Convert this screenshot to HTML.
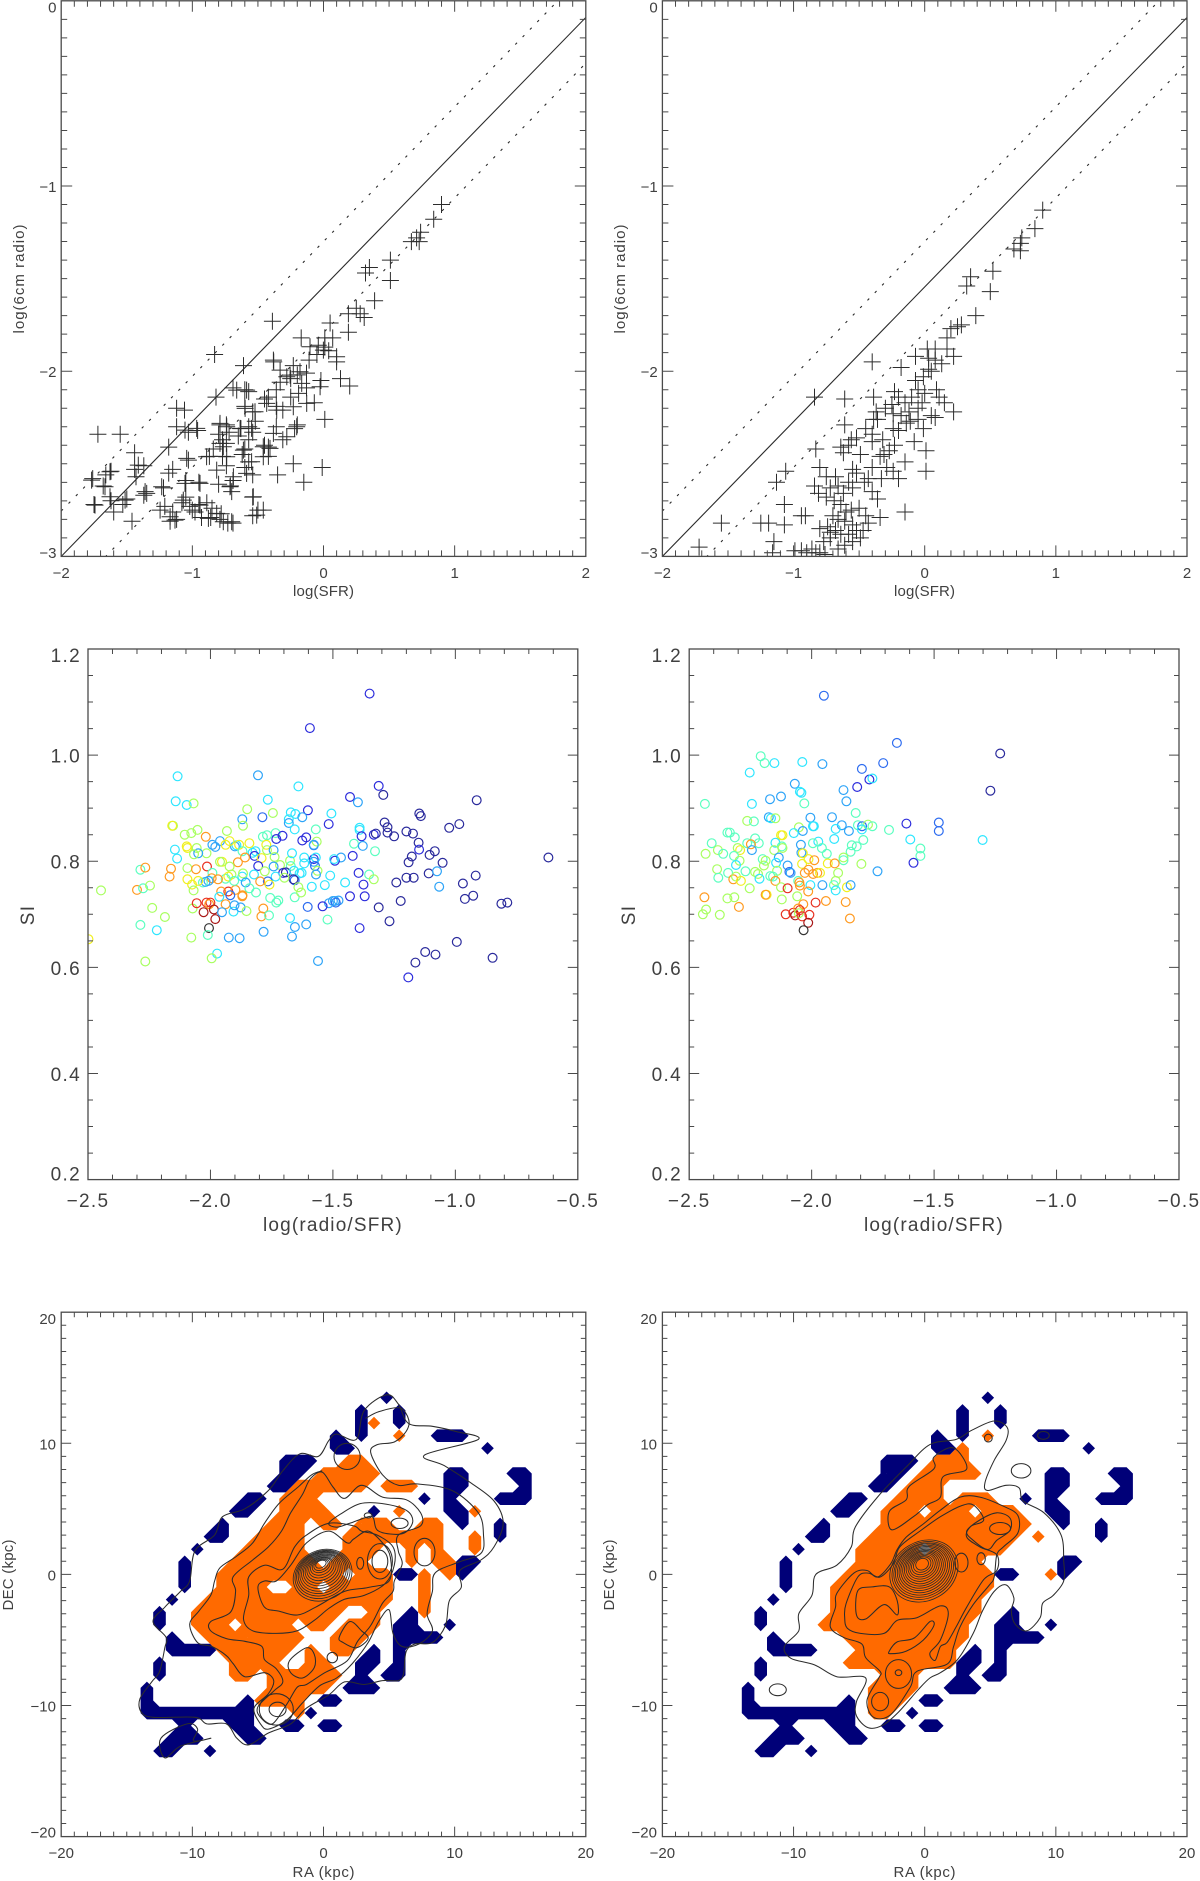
<!DOCTYPE html>
<html lang="en">
<head>
<meta charset="utf-8">
<title>Radio, SFR and spectral index panels</title>
<style>
html,body{margin:0;padding:0;background:#fff;}
svg{display:block;}
text{font-family:"Liberation Sans",sans-serif;fill:#404040;}
.t15{font-size:15px;}
.t19{font-size:19px;letter-spacing:1.3px;}
</style>
</head>
<body>
<svg id="figure" xmlns="http://www.w3.org/2000/svg" width="1200" height="1881" viewBox="0 0 1200 1881">
  <rect width="1200" height="1881" fill="#fff"/>
  <g id="p1">
    <text class="t15" x="323.5" y="596" text-anchor="middle" textLength="61">log(SFR)</text>
    <text class="t15" x="0" y="0" text-anchor="middle" textLength="109" transform="translate(24,279) rotate(-90)">log(6cm radio)</text>
  </g>
  <g id="p2">
    <text class="t15" x="924.5" y="596" text-anchor="middle" textLength="61">log(SFR)</text>
    <text class="t15" x="0" y="0" text-anchor="middle" textLength="109" transform="translate(625,279) rotate(-90)">log(6cm radio)</text>
  </g>
  <g id="p3">
    <text class="t19" x="333" y="1231" text-anchor="middle" textLength="140">log(radio/SFR)</text>
    <text class="t19" x="0" y="0" text-anchor="middle" transform="translate(34,915) rotate(-90)">SI</text>
  </g>
  <g id="p4">
    <text class="t19" x="934" y="1231" text-anchor="middle" textLength="140">log(radio/SFR)</text>
    <text class="t19" x="0" y="0" text-anchor="middle" transform="translate(635,915) rotate(-90)">SI</text>
  </g>
  <g id="p5">
    <text class="t15" x="323.5" y="1877" text-anchor="middle" textLength="62">RA (kpc)</text>
    <text class="t15" x="0" y="0" text-anchor="middle" textLength="71" transform="translate(13,1575) rotate(-90)">DEC (kpc)</text>
  </g>
  <g id="p6">
    <text class="t15" x="924.5" y="1877" text-anchor="middle" textLength="62">RA (kpc)</text>
    <text class="t15" x="0" y="0" text-anchor="middle" textLength="71" transform="translate(614,1575) rotate(-90)">DEC (kpc)</text>
  </g>
</svg>
<script>
/* ---------- tick labels ---------- */
const sfrTicks=[-2,-1,0,1,2];
const radioTicks=[0,-1,-2,-3];
const ratioTicks=[-2.5,-2,-1.5,-1,-0.5];
const siTicks=[1.2,1,0.8,0.6,0.4,0.2];
const raTicks=[-20,-10,0,10,20];
const decTicks=[20,10,0,-10,-20];

/* ---------- fit lines, log(radio) = slope*log(SFR) + intercept ---------- */
const fitSlope=[0.7275];
const fitIntercepts=[-1.545,-1.3,-1.792];

/* ---------- top panels: log(SFR), log(6cm radio) ---------- */
const crossLeftX=[.90,.84,.74,.71,.67,.73,.51,.51,.35,.32,.39,.25,.19,.28,.31,.05,.19,-.17,.01,.07,-.04,.01,.04,-.39,-.83,-.61,-.38,.10,-.23,-.13,-.28,-.25,.13,.20,-.02,-.13,-.36,-.60,-.57,-.69,-.82,-1.12,-1.06,-.42,-.25,-.19,-.07,-.36,-.54,-.60,-.31,.01,-.20,-.22,-.36,-.57,-.54,-.74,-.79,-1.12,-.96,-1.03,-.80,-.63,-.77,-.74,-.31,-.42,-.57,-.60,-.45,-1.72,-1.55,-1.44,-1.18,-1.03,-.87,-.77,-.74,-.57,-.42,-.60,-.23,-.01,-.35,-.15,-.54,-.69,-.71,-.80,-.95,-1.05,-1.15,-1.18,-1.37,-1.44,-1.43,-1.62,-1.66,-1.76,-1.68,-1.22,-1.36,-1.37,-1.50,-1.53,-1.62,-1.75,-1.60,-1.46,-1.21,-1.15,-1.12,-1.17,-1.05,-1.02,-.95,-.89,-.93,-.86,-.79,-.73,-.69,-.54,-.50,-.54,-.70,-.85,-.78,-1.08,-.98,-.65,-.62,-.52,-.72,-.84,-.45,-.33,-.20,-.05,-.11,-1.056,-.967,-.789,-.738,-.636,-.548,-.789,-.764,-.611,-.459,-.408,-1.043,-.891,-.738,-.548,-.814,-.586,-.687,-.459,-.713,-.942,-1.056,-1.234,-1.348,-1.513,-1.742,-1.628,-1.412,-1.628,-1.768,-1.666,-1.246,-1.17,-1.132,-1.069,-.942,-.814,-.878,-.764,-.7,-1,-.535,-.509,-.459,-.331,-.179,-.382,-.255,-.598,-.522,-.433,-.357,-.23,-.128,-.28,-.204,-.382,-.586,-.662,-.166,-.026,.1,-.001,-.103];
const crossLeftY=[-1.10,-1.18,-1.25,-1.28,-1.30,-1.30,-1.40,-1.51,-1.44,-1.47,-1.62,-1.66,-1.69,-1.69,-1.71,-1.74,-1.79,-1.82,-1.82,-1.82,-1.86,-1.87,-1.89,-1.73,-1.91,-1.97,-1.95,-1.95,-1.97,-2.01,-2.03,-2.04,-2.04,-2.08,-2.05,-2.09,-2.10,-2.10,-2.11,-2.09,-2.14,-2.20,-2.21,-2.14,-2.14,-2.12,-2.17,-2.19,-2.22,-2.19,-2.21,-2.26,-2.29,-2.31,-2.30,-2.30,-2.33,-2.29,-2.29,-2.30,-2.32,-2.33,-2.34,-2.31,-2.37,-2.39,-2.37,-2.41,-2.37,-2.42,-2.40,-2.34,-2.34,-2.44,-2.41,-2.48,-2.46,-2.46,-2.51,-2.49,-2.46,-2.52,-2.50,-2.52,-2.56,-2.60,-2.56,-2.59,-2.62,-2.61,-2.60,-2.59,-2.53,-2.55,-2.51,-2.53,-2.57,-2.54,-2.56,-2.58,-2.62,-2.63,-2.65,-2.67,-2.69,-2.72,-2.70,-2.72,-2.76,-2.81,-2.73,-2.76,-2.80,-2.81,-2.68,-2.73,-2.72,-2.71,-2.79,-2.79,-2.80,-2.82,-2.82,-2.68,-2.75,-2.78,-2.65,-2.74,-2.77,-2.71,-2.76,-2.35,-2.45,-2.27,-2.33,-2.42,-2.15,-2.06,-2.02,-1.91,-1.94,-2.318,-2.309,-2.282,-2.30,-2.309,-2.309,-2.39,-2.408,-2.426,-2.408,-2.417,-2.471,-2.462,-2.462,-2.489,-2.534,-2.552,-2.57,-2.462,-2.624,-2.606,-2.606,-2.624,-2.66,-2.696,-2.723,-2.678,-2.507,-2.543,-2.588,-2.624,-2.75,-2.786,-2.804,-2.696,-2.723,-2.768,-2.795,-2.813,-2.813,-2.75,-2.678,-2.777,-2.75,-1.994,-2.003,-1.94,-2.021,-2.201,-2.219,-2.174,-2.21,-2.192,-2.174,-2.354,-2.30,-2.336,-2.102,-2.102,-2.066,-2.084,-1.922,-1.886,-1.868];
const crossRightX=[.90,.84,.74,.73,.68,.73,.52,.50,.35,.32,.39,.25,.20,.28,.17,.17,.02,.08,-.07,.22,.08,-.40,-.18,.03,-.01,-.07,.09,-.23,-.61,-.84,.11,-.39,-.15,-.02,.15,-.37,-.24,-.05,.22,.08,-.39,-.14,-.11,-.61,-.01,-.24,-.40,-.08,-.23,-.56,-.64,-.83,.01,-.31,-.49,-.15,-1.06,-.80,-.55,.01,-.33,-.43,-.20,-1.13,-.72,-.55,-.81,-.40,-1.07,-.36,-.69,-.15,-.56,-.64,-.94,-.91,-.34,-1.19,-1.25,-1.55,-1.07,-.80,-.72,-.43,-.61,-.55,-.49,-.72,-.64,-1.15,-1.72,-.99,-.90,-.80,-1.16,-.94,-.83,-.61,-.62,-.58,-.52,-.45,-.36,-.30,-.25,-.2,-.12,-.05,-.32,-.27,-.34,-.29,-.24,-.4,-.46,-.52,-.58,-.62,-.66,-.68,-.75,-.7,-.66,-.6,-.5,-.45,-.52,-.58,-.68,-.74,-.77,-.55,-.47,-.86,-.76,-.66,-.75,-.84,-.05,.0,-.1,.05,-.2,-.18,.13,.05,.03,-.4];
const crossRightY=[-1.13,-1.23,-1.28,-1.31,-1.34,-1.35,-1.46,-1.57,-1.49,-1.54,-1.70,-1.76,-1.77,-1.75,-1.82,-1.88,-1.88,-1.88,-1.92,-1.92,-1.94,-1.95,-1.98,-1.99,-2.03,-2.05,-2.10,-2.11,-2.15,-2.14,-2.14,-2.14,-2.17,-2.17,-2.17,-2.22,-2.23,-2.20,-2.22,-2.25,-2.26,-2.28,-2.27,-2.29,-2.31,-2.31,-2.34,-2.38,-2.40,-2.37,-2.41,-2.42,-2.43,-2.45,-2.45,-2.49,-2.54,-2.52,-2.53,-2.54,-2.58,-2.58,-2.58,-2.60,-2.63,-2.63,-2.66,-2.65,-2.72,-2.69,-2.70,-2.76,-2.75,-2.72,-2.78,-2.78,-2.79,-2.82,-2.82,-2.82,-2.83,-2.85,-2.87,-2.82,-2.81,-2.83,-2.90,-2.90,-2.88,-2.92,-2.95,-2.97,-2.98,-2.98,-2.98,-2.97,-2.98,-2.94,-2.44,-2.40,-2.36,-2.31,-2.26,-2.20,-2.18,-2.14,-2.22,-2.26,-2.37,-2.43,-2.46,-2.52,-2.54,-2.52,-2.6,-2.55,-2.6,-2.66,-2.62,-2.57,-2.68,-2.78,-2.8,-2.76,-2.74,-2.78,-2.86,-2.88,-2.86,-2.84,-2.92,-2.92,-2.86,-2.96,-2.99,-2.96,-2.57,-2.62,-2.1,-2.12,-2.14,-2.24,-2.32,-2.24,-1.96,-2.0,-1.93,-2.38];

/* ---------- middle panels: log(radio/SFR), spectral index, colour class ---------- */
const circleLeftX=[-1.35,-1.594,-2.134,-1.806,-2.142,-2.097,-2.069,-1.766,-1.43,-1.398,-1.313,-1.294,-1.641,-.913,-1.85,-1.745,-1.87,-1.788,-1.672,-1.653,-1.68,-1.68,-1.602,-1.625,-1.506,-1.517,-1.147,-1.141,-.984,-1.025,-1.289,-1.277,-1.277,-1.25,-1.2,-1.173,-1.391,-1.391,-1.383,-1.333,-1.325,-1.15,-1.148,-1.105,-1.084,-1.178,-1.191,-1.052,-.62,-1.656,-1.57,-2.153,-2.156,-1.867,-1.933,-2.053,-2.078,-2.105,-2.019,-1.961,-1.992,-1.98,-1.9,-1.894,-2.097,-2.094,-2.056,-2.016,-2.05,-2.067,-2.145,-2.136,-1.922,-1.883,-1.841,-1.938,-1.869,-1.828,-1.816,-1.82,-1.786,-1.769,-1.734,-1.731,-1.706,-1.772,-1.769,-1.742,-1.738,-1.859,-1.888,-1.791,-1.953,-1.961,-1.922,-1.716,-1.675,-1.672,-1.667,-1.617,-1.578,-1.566,-1.609,-1.625,-1.578,-1.414,-1.378,-1.328,-1.467,-1.492,-1.495,-1.419,-1.578,-1.57,-1.578,-1.617,-1.573,-1.563,-1.805,-1.742,-1.703,-1.692,-1.659,-1.636,-1.569,-1.511,-1.656,-1.661,-1.628,-2.094,-2.161,-2.167,-2.286,-2.266,-2.059,-2.014,-1.992,-1.914,-1.938,-1.927,-1.969,-1.995,-2.008,-2.031,-2.02,-2.094,-2.05,-2.075,-2.069,-1.927,-1.898,-1.956,-1.919,-1.903,-1.87,-1.822,-1.867,-1.778,-1.734,-1.766,-1.759,-1.797,-1.698,-1.856,-1.841,-1.814,-1.869,-1.87,-1.964,-1.656,-1.641,-1.63,-1.756,-1.731,-1.723,-1.586,-1.533,-1.45,-1.352,-1.333,-1.395,-1.375,-1.241,-1.2,-1.17,-1.109,-1.075,-1.066,-.969,-.917,-.927,-.961,-1.223,-1.37,-1.43,-1.492,-1.477,-1.5,-1.488,-1.516,-1.542,-1.603,-2.447,-2.3,-2.275,-2.247,-2.238,-2.186,-2.286,-2.219,-2.266,-2.073,-2.056,-2.016,-2,-2.005,-2.028,-1.986,-1.98,-2.006,-1.938,-1.953,-1.906,-1.902,-1.877,-1.853,-1.784,-1.792,-1.761,-1.675,-1.655,-1.609,-1.313,-1.391,-1.269,-.812,-.788,-1.522,-1.783,-1.667,-1.925,-1.881,-2.078,-2.011,-1.973,-1.995,-1.561,-1.192,-1.163,-1.123,-1.081,-.994,-.848,-2.498];
const circleLeftY=[1.116,1.051,.96,.962,.913,.906,.909,.916,.921,.911,.942,.925,.941,.915,.898,.891,.879,.883,.892,.889,.879,.872,.896,.883,.89,.87,.89,.885,.87,.863,.873,.864,.854,.847,.856,.852,.863,.859,.847,.85,.852,.835,.822,.812,.819,.809,.798,.797,.807,.86,.86,.867,.867,.867,.857,.859,.853,.85,.846,.838,.831,.827,.828,.83,.828,.825,.825,.815,.815,.813,.822,.805,.838,.831,.834,.831,.819,.816,.819,.81,.846,.849,.853,.842,.848,.831,.821,.821,.808,.807,.798,.806,.799,.799,.79,.793,.801,.791,.815,.807,.83,.837,.845,.839,.831,.833,.829,.819,.807,.801,.804,.81,.804,.807,.799,.796,.791,.782,.791,.79,.778,.779,.782,.777,.775,.773,.764,.766,.778,.787,.786,.771,.784,.788,.785,.79,.778,.775,.767,.771,.766,.768,.763,.76,.761,.766,.763,.756,.745,.743,.746,.743,.736,.763,.771,.775,.777,.781,.771,.762,.756,.762,.769,.76,.749,.741,.736,.734,.733,.732,.751,.741,.731,.722,.726,.752,.755,.76,.775,.766,.778,.756,.76,.769,.769,.777,.781,.752,.758,.773,.735,.729,.725,.734,.734,.725,.726,.725,.722,.721,.715,.714,.745,.746,.749,.754,.712,.695,.68,.67,.611,.711,.721,.722,.722,.719,.704,.709,.691,.674,.719,.704,.705,.717,.713,.706,.711,.696,.698,.693,.676,.681,.713,.674,.687,.72,.722,.69,.667,.658,.656,.655,.656,.661,.626,.617,.612,.581,.609,.629,.624,.648,.618,.653];
const circleLeftClass=[1,1,4,3,4,4,6,4,1,3,1,0,4,0,6,6,3,2,4,4,4,3,1,3,4,1,0,0,0,0,0,0,0,0,0,0,4,4,1,1,0,0,1,0,0,0,0,0,0,4,5,6,7,6,6,6,6,6,8,3,3,3,3,4,7,7,6,6,3,6,4,4,7,7,7,7,5,4,4,1,5,5,5,1,1,7,6,3,6,8,8,7,7,6,6,6,6,5,4,4,2,6,1,1,3,5,3,5,3,1,4,1,1,4,3,4,2,6,1,3,1,0,4,4,3,4,2,0,4,6,8,8,5,8,8,9,5,6,5,7,8,8,3,5,3,7,7,7,6,9,8,8,2,5,4,4,6,6,4,2,7,8,6,3,5,5,8,8,4,5,6,6,5,5,5,4,4,4,5,6,1,1,0,0,0,0,3,3,0,0,0,0,0,1,1,3,3,3,2,3,1,2,6,8,5,6,6,6,5,4,6,6,9,9,9,8,10,10,10,11,8,3,4,3,3,6,8,8,5,4,3,3,0,1,0,0,0,5,3,3,3,3,6,5,4,6,3,1,0,0,0,0,0,7];
const circleRightX=[-1.95,-1.652,-1.23,-2.208,-2.192,-2.152,-2.038,-1.956,-2.253,-1.795,-1.708,-2.069,-1.814,-1.764,-1.752,-1.27,-2.048,-2.042,-1.87,-2.125,-2.17,-2.436,-2.244,-2.03,-1.858,-1.82,-1.917,-2.005,-2.175,-2.166,-2.148,-2.263,-2.236,-1.877,-1.811,-1.794,-1.77,-1.752,-1.795,-1.995,-1.991,-1.613,-1.481,-1.481,-2.052,-2.036,-2.073,-1.902,-1.848,-1.684,-2.344,-2.334,-2.314,-2.231,-2.125,-2.119,-1.908,-1.789,-1.302,-1.597,-1.973,-1.995,-2.044,-2.148,-2.263,-2.216,-2.408,-2.248,-2.122,-2.119,-1.836,-1.816,-1.556,-2.302,-2.292,-2.383,-2.244,-2.153,-1.958,-2.433,-2.361,-2.317,-2.042,-2.036,-1.938,-1.841,-1.556,-2.134,-1.87,-1.87,-2.013,-1.989,-2.2,-2.188,-2.294,-2.309,-2.039,-2.145,-2.195,-1.934,-1.906,-1.797,-1.584,-2.386,-2.27,-2.098,-2.013,-2.091,-2.086,-1.731,-1.892,-2.231,-2.219,-2.141,-2.028,-1.994,-1.977,-1.966,-2.381,-2.341,-2.32,-2.309,-2.289,-2.213,-2.169,-2.158,-2.148,-2.055,-2.05,-1.902,-2.253,-2.125,-2.098,-2.048,-2.005,-1.956,-1.909,-1.902,-1.856,-1.841,-2.014,-2.438,-2.344,-2.316,-2.184,-2.188,-2.122,-2.059,-2.034,-1.984,-1.942,-1.861,-1.844,-2.297,-2.431,-2.444,-2.375,-2.106,-2.075,-2.067,-2.055,-2.048,-2.052,-2.039,-2.009,-2.014,-2.033];
const circleRightY=[1.112,1.023,1.003,.998,.985,.985,.987,.983,.967,.974,.985,.946,.94,.954,.956,.933,.931,.929,.934,.922,.917,.908,.908,.909,.913,.891,.883,.882,.883,.881,.881,.876,.875,.868,.868,.866,.869,.866,.86,.866,.866,.871,.873,.857,.864,.857,.853,.861,.857,.859,.854,.854,.845,.843,.849,.849,.842,.84,.84,.841,.837,.834,.831,.835,.834,.834,.834,.832,.828,.825,.83,.828,.824,.825,.821,.821,.821,.821,.825,.814,.814,.81,.816,.815,.814,.818,.81,.807,.807,.802,.804,.802,.804,.801,.801,.793,.795,.797,.792,.796,.796,.795,.797,.785,.781,.792,.784,.78,.778,.781,.778,.78,.776,.782,.778,.776,.778,.778,.769,.778,.766,.771,.763,.767,.772,.771,.763,.763,.76,.763,.749,.751,.749,.754,.755,.755,.755,.745,.751,.755,.743,.732,.73,.732,.737,.737,.728,.734,.719,.722,.725,.723,.692,.714,.709,.7,.699,.7,.703,.698,.711,.708,.702,.696,.699,.684,.67];
const circleRightClass=[2,2,0,5,5,4,4,3,4,2,2,3,1,1,4,0,4,4,3,3,3,5,4,5,3,5,3,3,3,4,6,6,5,3,5,2,6,5,4,4,4,1,2,2,6,3,4,4,3,5,5,5,5,5,7,7,4,5,4,4,4,5,3,4,5,5,5,8,5,6,5,5,5,6,7,6,3,6,5,6,5,5,3,7,5,5,5,3,6,5,7,8,5,6,6,4,7,4,6,7,8,6,1,6,5,3,8,2,3,3,6,6,6,6,8,8,8,7,5,5,8,6,7,4,5,5,8,5,8,6,6,6,9,8,4,3,5,4,7,3,8,8,6,6,7,8,6,6,8,9,8,8,8,8,6,6,6,9,9,10,8,9,6,9,9,10,11];

/* ---------- bottom panels: map cells (row index, then on-cell column indices; 1 index = one map pixel) ---------- */
const mapPixelKpc=[0.962];
const lowRowsLeft=[14,13,12,11,10,9,8,7,6,5,4,3,2,1,0,-1,-2,-3,-4,-5,-6,-7,-8,-9,-10,-11,-12,-13,-14];
const lowColsLeft=[[5],[3,6],[3,6],[1,3,9,10,11],[1,2,13],[-3,-2,-1],[-3,-2,10,11,15,16],[-4,-3,10,11,16],[-6,-5,8,10,14,15,16],[-7,-6,4,10,11],[-8,11,14],[-9,-8,14],[-10],[-11,11,12],[-11,6,7,11],[-11],[-12],[-13,7],[-13,6,7,10],[-12,6,7,8,9],[-12,-11,-10,-9,4,6],[-13,3,4,6],[-13,3,5,6],[-14,2,3,4],[-14,-6,0,1],[-14,-13,-12,-11,-10,-9,-8,-7,-6,-1],[-11,-7,-6,-3,-2,0,1],[-12,-11,-10,-6,-5],[-13,-12,-9]];
const lowRowsRight=[14,13,12,11,10,9,8,7,6,5,4,3,2,1,0,-1,-2,-3,-4,-5,-6,-7,-8,-9,-10,-11,-12,-13,-14];
const lowColsRight=[[5],[3,6],[3,6],[1,3,9,10,11],[1,2,13],[-3,-2,-1],[-3,-2,10,11,15,16],[-4,-3,10,11,16],[-6,-5,8,10,14,15,16],[-7,-6,10,11],[-8,11,14],[-9,-8,14],[-10],[-11,11,12],[-11,6,7,11],[-11],[-12],[-13,7],[-13,6,7,10],[-12,6,7,8,9],[-12,-11,-10,-9,4,6],[-13,3,4,6],[-13,3,5,6],[-14,2,3,4],[-14,-6,0,1],[-14,-13,-12,-11,-10,-9,-8,-7,-6,-1],[-11,-7,-6,-3,-2,0,1],[-12,-11,-10,-6,-5],[-13,-12,-9]];
const highRowsLeft=[12,11,9,8,7,6,5,4,3,2,1,0,-1,-2,-3,-4,-5,-6,-7,-8,-9,-10,-11];
const highColsLeft=[[4],[6],[2,3],[0,1,2,3,4],[-2,-1,0,1,2,3,5,6,7],[-3,-2,-1],[-3,-2,-1,0,6,12],[-4,-3,-2,0,1,3,4,5,8,9],[-5,-4,-3,-2,2,3,4,5,6,7,8,9,12],[-6,-5,-4,-3,-2,2,3,4,7,9,12],[-7,-6,-5,-4,-3,-2,-1,1,2,3,7,9,10],[-8,-7,-6,-5,-4,-3,-2,-1,0,1,3,4,5,8,10],[-8,-7,-6,-5,-2,-1,1,2,3,4,5,8],[-9,-8,-7,-6,-5,-4,-3,-2,-1,0,1,2,3,4,5,8],[-10,-9,-8,-7,-6,-5,-4,-3,-2,-1,0,1,4,8],[-10,-9,-8,-6,-5,-4,-3,-1,0,2,3,4],[-9,-8,-7,-6,-5,-4,-3,-2,1,2,3],[-8,-7,-6,-5,-4,-3,-1,1,2],[-7,-6,-5,-4,-1,0],[-7,-6,-4,-3,-2,-1,0,1],[-4,-3,-2,-1,0],[-5,-4,-3,-2],[-2]];
const highRowsRight=[11,10,9,8,7,6,5,4,3,2,1,0,-1,-2,-3,-4,-5,-6,-7,-8,-9,-10,-11];
const highColsRight=[[5],[3],[1,2,3],[0,1,2,3,4],[-1,0,1],[-2,-1,0,1,3,4,5],[-3,-2,-1,1,2,3,5,6,7],[-3,-2,-1,0,1,2,3,4,5,6,7,8],[-4,-3,-2,-1,0,1,2,3,4,5,6,7,9],[-5,-4,-3,-2,-1,1,2,3,4,5,6],[-5,-4,-3,-2,-1,0,1,2,3,4],[-6,-5,-4,-3,-2,-1,0,1,2,3,4,5,10],[-7,-6,-5,-4,-3,-2,-1,0,1,2,3,4,5],[-7,-6,-5,-4,-3,-2,-1,0,1,2,3,4],[-7,-6,-5,-4,-3,-2,-1,0,1,2,3,4],[-8,-7,-6,-5,-4,-3,-2,-1,0,1,2,3],[-6,-5,-4,-3,-2,-1,0,1,2,3],[-5,-4,-3,-2,-1,0,1,2],[-6,-5,-4,-3,-2,-1,0,1,2],[-3,-2,-1],[-4,-3,-2,-1],[-4,-3,-2],[-4,-3]];
const peakRowsRight=[2];
const peakColsRight=[[0]];

/* ---------- contour traces in kpc: x,y,x,y,... ---------- */
const contourLeftOuter=[4.8,13.7,5.7,13,6.5,11.5,8.3,11.3,10.1,10.9,11.8,10.3,7.7,9.1,9.2,8.3,11.2,7,13,5.6,13.7,3.9,13,2.1,12,1.1,10.4,.3,10.5,-1,9.6,-2,9.3,-3.9,8.3,-5.2,7,-5.3,6.3,-5.9,6.1,-7.6,5.7,-8.1,4.5,-8.1,3.1,-8.4,1.6,-8.2,.4,-9.2,-1.3,-10.2,-2.5,-11.4,-4.2,-12.1,-5.7,-13,-6.6,-12.5,-7.4,-11.4,-8.9,-11.4,-9.8,-10.9,-13,-10.9,-13.9,-10.5,-14,-9.5,-13.1,-8.2,-12.5,-7.4,-12.1,-5.6,-12,-4.8,-13,-3.6,-12.1,-2.5,-10.9,-1.3,-10.2,-.5,-9.8,1.8,-8.3,3,-7.7,4.4,-6,5,-4.2,6.4,-3.1,7.9,-1.8,9.2,-.4,9,.4,10.2,1,10.7,2.5,10.3,3.1,12.5];
const contourLeftIsland=[-12.4,-12.5,-10.4,-11.4,-9.6,-11.8,-9.9,-12.7,-8.6,-12.5,-10.9,-13.1,-12.1,-14];
const contourLeftThird=[-8.6,-3.6,-7.1,-2.9,-6.7,-1.3,-6.9,-.2,-5.4,1.1,-4.2,2.1,-3.2,3.3,-2.5,4.7,-1.6,6.1,-1,7.3,-.1,7.8,.7,6.7,1.6,5.8,2.9,6.8,4.5,5.9,6.3,5.7,7.4,4.7,7.4,3.7,5.7,3,5.7,1.8,6,.8,5.4,-.5,5.3,-1.3,4.5,-2.2,3.6,-3.9,2.6,-5.1,1.8,-6.6,.1,-7.5,-1.3,-8.4,-2,-8.6,-2.8,-9.9,-3.9,-11.4,-4.8,-10.9,-5,-10.1,-3.8,-8.9,-3.1,-8.2,-3.6,-7.2,-4.5,-6.5,-4.7,-5.5,-6,-5.1,-7.4,-4.9,-8.6,-4.3];
const contourLeftFourth=[-6.1,-3.4,-5.4,-4.3,-3.6,-4.5,-2,-4.3,-.7,-3.5,.4,-2.6,1.6,-1.9,3.1,-1.6,4.7,-.7,5.4,.7,5.3,2.1,4.1,3,2.9,3.3,2.3,3.7,.4,3.9,-1.3,3,-2.2,2.1,-3.1,.4,-4.5,.7,-5.7,-.2,-5.7,-1.6];
const contourLeftFifth=[-5,-1,-4.5,-2.5,-3.4,-2.8,-2,-3.1,-.6,-2.5,1.6,-1.3,3.4,-1,5,-.5,5.1,1.3,4.5,2.4,3.4,3.3,2.3,2.7,1.8,2.4,.4,3.3,-1.3,2.4,-2.5,.7,-3.6,-.5,-4.5,-.5];
const contourLeftLobe=[.4,3.9,1.3,4.6,2.8,5.4,4.5,5.4,6.3,4.9,6.8,4,6,3.1,4.2,3.3,3.8,4.3,3.4,4.4,2,3.9,1,3.6];
const contourLeftBlob=[1.2,-4.8,2,-3.6,2.9,-4.3,3.4,-4.9,2.5,-5.6,1.5,-5.2];
const contourLeftHole=[-2.6,-6.6,-1.3,-5.6,-.7,-6.1,-.7,-7.1,-1.6,-7.9,-2.5,-7.5];
const contourLeftSecond=[3.2,11.9,4.2,12.4,5.8,12.7,6.5,11.8,6.3,10.9,5.4,10.1,4.1,9.9,3.6,9.3,4.5,7.6,5.7,6.8,7.1,6.9,9.8,6.4,11.8,4.7,12.2,3,12,1.6,10.2,.9,8.5,.1,8.3,-1.3,7.9,-3,8.3,-4.3,7.3,-5.3,6,-5.5,5.3,-4.5,5,-2.7,4.2,-3.6,3.4,-5.2,2.2,-6.8,1,-7.9,-.3,-8.5,-1.6,-9.8,-2.8,-11.1,-4.2,-11.8,-4.8,-11.4,-5.3,-10.2,-4.2,-9.1,-3.8,-8.1,-4.5,-7.5,-6,-7.8,-6.9,-6.8,-7.4,-6.2,-8.5,-5.5,-9.6,-5.2,-10.2,-3.8,-9.5,-2.8,-8.6,-1.6,-8.3,-.5,-7.9,.5,-6.6,1.4,-5.4,2.4,-4.5,3.9,-3.4,5.4,-1.9,6.7,-.9,7.6,-.1,7.9];
const contourRightOuter=[5.3,11.7,6.3,11.2,6.2,10.2,5.3,8.7,4.6,7,4.8,6.4,6.2,6.8,7.2,6.6,7.5,5.6,9.1,4.7,10.4,3,10.6,1,10.6,-.5,9.8,-1.6,9,-2.2,8.8,-3.3,7.8,-4.3,6.9,-3.8,6.6,-2.8,6.8,-1.8,6.2,-.8,5.3,-1.3,4.4,-2.8,3.7,-4.5,2.5,-6.5,1.2,-7.5,.4,-7.9,-.5,-8.8,-2,-10.5,-3.2,-11.5,-4.3,-11.7,-5.2,-10.8,-5.2,-9.7,-4.5,-7.9,-6.7,-7.8,-8.4,-6.9,-10.2,-6.4,-10.7,-5.5,-9.6,-4.3,-9.6,-3,-8.6,-1.6,-8.3,0,-6.7,.7,-5.6,2.1,-5.3,3.6,-3.6,5.9,-1.4,8.2,.4,9.9,2.4,10.3,3.6,11];
const contourRightSecond=[-7.2,-4,-6.8,-2.5,-6.7,-1.45,-5.4,.1,-4.4,.3,-3.6,-.2,-2.6,.8,-2.1,1.9,-1.4,2.85,-.1,3.85,1.2,4.9,2.7,5.9,4.2,5.9,6,5.2,7.1,4.5,7.1,3.15,6,2.1,5.5,1.5,5.3,-.2,4.9,-.85,3.7,-2.3,2.7,-4,2.2,-5.5,1.7,-6.85,-.6,-7.4,-1.1,-8.6,-2.6,-10.7,-3.9,-10.9,-4.4,-9.6,-3.5,-7.9,-3.4,-7.4,-4.5,-6.35,-4.8,-5.3,-6.2,-4.8];
const contourRightThird=[-6.1,-3.3,-6,-2.25,-5.1,-.2,-4.3,.1,-3.4,-.2,-2.4,.8,-1.9,2.1,-.3,3.35,1.2,4.4,2.7,5.2,3.7,5.3,4.5,4.15,3.5,3.65,3.2,2.85,4.2,2.1,5.5,1.5,5.5,.3,4.5,-.4,3.2,-2.5,2.4,-4,1.7,-5.2,1.2,-5.5,.8,-6.55,.4,-6,1.2,-5,1.8,-3,1.2,-2.4,-.6,-3.3,-2.1,-3.5,-3.1,-4.5,-4.9,-4.5,-5.9,-4.1];
const contourRightInner=[-5.2,-3.1,-5.1,-1.25,-4,-.95,-2.7,-.95,-2.1,-2,-2.1,-3.1,-3.1,-2.3,-4.5,-3.4];
const contourRightLobe=[-2.7,-5.85,-2.1,-5.15,-.8,-4.85,.4,-3.6,.7,-3.9,-.1,-5,-1.4,-5.85,-2.6,-6.05];
const contourRightArm=[-2.5,3.4,-2.7,4.8,-1.4,5.7,-1.2,6.7,.7,8.05,.7,8.95,2.2,9.65,3.2,8.05,1.4,7.45,1.2,5.9,.2,5.3,-.8,4.45];
const contourRightKnot=[3.2,3.3,4.2,4.15,5.5,4.7,6.5,4.3,6.5,3.35,5.5,2.6,4.8,1.9,3.7,2.6];

/* closed peaks in kpc: centre x, centre y, half-width, half-height, tilt in degrees */
const peakLeftCx=[5.8,3.4,4.3,4.3,2.8,1.8,.67,-3.5,-3.6,7.7,-.2,-.19,-.18,-.17,-.16,-.15,-.14,-.13,-.12,-.11,-.1,-.09,-.08,-.07];
const peakLeftCy=[3.9,4.5,1,1,.85,9,-6.35,-10.3,-10.3,1.7,.78,.72,.66,.6,.53,.46,.39,.33,.26,.19,.13,.07,0,-.06];
const peakLeftRx=[.65,.3,.6,.95,.27,1,.4,.65,1.3,.8,.43,.57,.71,.86,1.01,1.16,1.31,1.46,1.6,1.75,1.89,2.02,2.16,2.3];
const peakLeftRy=[.4,.2,.85,1.35,.45,1,.4,.55,1.2,1.05,.27,.38,.49,.62,.75,.88,1.01,1.14,1.27,1.4,1.52,1.64,1.76,1.9];
const peakLeftTilt=[0,0,0,0,0,0,0,0,0,0,-25,-25,-25,-25,-25,-25,-25,-25,-25,-25,-25,-25,-25,-25];
const peakRightCx=[7.35,-11.2,9.05,4.85,5.75,2.8,4.3,-2,-2,-3.4,-.2,-.19,-.18,-.17,-.16,-.15,-.14,-.13,-.12,-.11,-.1,-.09,-.08,-.07,-.06];
const peakRightCy=[7.9,-8.8,10.6,10.4,3.5,.9,1.2,-7.6,-7.5,-9.7,.78,.75,.71,.67,.64,.6,.56,.52,.49,.45,.41,.37,.33,.3,.26];
const peakRightRx=[.75,.65,.45,.3,.8,.5,.32,1,.25,.65,.5,.7,.86,1.02,1.17,1.32,1.47,1.62,1.77,1.92,2.07,2.22,2.36,2.52,2.7];
const peakRightRy=[.55,.45,.3,.3,.46,.72,.46,1.1,.22,.7,.43,.55,.68,.81,.94,1.07,1.2,1.33,1.46,1.59,1.72,1.85,1.97,2.1,2.25];
const peakRightTilt=[0,0,0,0,0,0,0,0,0,0,-30,-30,-30,-30,-30,-30,-30,-30,-30,-30,-30,-30,-30,-30,-30];

/* ---------- styles (not data) ---------- */
const classColors=['#2a2a9c','#2d2ddc','#2d6cf0','#2ea4f8','#2ee6ff','#5cffc0','#a8ff60','#f0f020','#ff9a20','#e83020','#a81818','#333333'];
const NS='http://www.w3.org/2000/svg';
function mk(parent,tag){const e=document.createElementNS(NS,tag);parent.appendChild(e);return e;}
function fmt(v){const s=Math.abs(v)<1e-9?'0':String(Math.abs(v));return (v<0?'\u2212':'')+s;}
function fmt1(v){return (v<0?'\u2212':'')+Math.abs(v).toFixed(1);}

function panel(id,L,R,T,B,xMin,xMax,yMin,yMax){
  const root=document.getElementById(id);
  const p={root,L,R,T,B,
    sx:v=>L+(v-xMin)/(xMax-xMin)*(R-L),
    sy:v=>B-(v-yMin)/(yMax-yMin)*(B-T),
    kx:(R-L)/(xMax-xMin),ky:(B-T)/(yMax-yMin),xMin,xMax,yMin,yMax};
  const defs=mk(root,'clipPath');
  defs.setAttribute('id',id+'-clip');
  const r=mk(defs,'rect');
  r.setAttribute('x',L);r.setAttribute('y',T);r.setAttribute('width',R-L);r.setAttribute('height',B-T);
  const g=mk(root,'g');
  g.setAttribute('clip-path','url(#'+id+'-clip)');
  
  
  p.plot=g;
  return p;
}

function axes(p,xMajor,xMinorStep,yMajor,yMinorStep,majLen,minLen,cls,xFmt,yFmt,xBase,yRight,yOff){
  const g=mk(p.root,'g');
  
  
  const f=mk(g,'rect');
  
  
  f.setAttribute('x',p.L);f.setAttribute('y',p.T);f.setAttribute('width',p.R-p.L);f.setAttribute('height',p.B-p.T);
  f.setAttribute('fill','none');f.setAttribute('stroke','#4a4a4a');f.setAttribute('stroke-width','1.3');
  let d='';
  const nx=Math.round((p.xMax-p.xMin)/xMinorStep);
  for(let i=1;i<nx;i++){
    const v=p.xMin+i*xMinorStep;
    const isMaj=xMajor.some(m=>Math.abs(m-v)<xMinorStep/3);
    const len=isMaj?majLen:minLen,x=p.sx(v).toFixed(2);
    d+='M'+x+' '+p.B+'v'+(-len)+'M'+x+' '+p.T+'v'+len;
  }
  const ny=Math.round((p.yMax-p.yMin)/yMinorStep);
  for(let i=1;i<ny;i++){
    const v=p.yMin+i*yMinorStep;
    const isMaj=yMajor.some(m=>Math.abs(m-v)<yMinorStep/3);
    const len=isMaj?majLen:minLen,y=p.sy(v).toFixed(2);
    d+='M'+p.L+' '+y+'h'+len+'M'+p.R+' '+y+'h'+(-len);
  }
  const t=mk(g,'path');
  
  
  t.setAttribute('d',d);t.setAttribute('stroke','#4a4a4a');t.setAttribute('stroke-width','1');t.setAttribute('fill','none');
  xMajor.forEach(v=>{
    const e=mk(g,'text');
    
    
    e.setAttribute('class',cls);
    e.setAttribute('x',p.sx(v));e.setAttribute('y',xBase);e.setAttribute('text-anchor','middle');
    e.textContent=xFmt(v);
  });
  yMajor.forEach(v=>{
    const e=mk(g,'text');
    
    
    e.setAttribute('class',cls);
    const off=v===p.yMax?yOff[0]:(v===p.yMin?yOff[2]:yOff[1]);
    e.setAttribute('x',yRight);e.setAttribute('y',p.sy(v)+off);e.setAttribute('text-anchor','end');
    e.textContent=yFmt(v);
  });
}

function fitLines(p){
  [fitIntercepts[0],fitIntercepts[1],fitIntercepts[2]].forEach((c,k)=>{
    const l=mk(p.plot,'line');
    
    
    l.setAttribute('x1',p.sx(p.xMin));l.setAttribute('y1',p.sy(fitSlope[0]*p.xMin+c));
    l.setAttribute('x2',p.sx(p.xMax));l.setAttribute('y2',p.sy(fitSlope[0]*p.xMax+c));
    l.setAttribute('stroke','#2a2a2a');l.setAttribute('stroke-width','1.1');
    if(k)l.setAttribute('stroke-dasharray','2.5 8');
  });
}
function crosses(p,xs,ys){
  const n=Math.min(xs.length,ys.length),a=8.5;
  for(let i=0;i<n;i++){
    const x=p.sx(xs[i]),y=p.sy(ys[i]);
    const c=mk(p.plot,'path');
    
    
    c.setAttribute('d','M'+(x-a).toFixed(1)+' '+y.toFixed(1)+'h'+(2*a)+'M'+x.toFixed(1)+' '+(y-a).toFixed(1)+'v'+(2*a));
    c.setAttribute('stroke','#2c2c2c');c.setAttribute('stroke-width','1');c.setAttribute('fill','none');
  }
}
function circles(p,xs,ys,cs){
  const n=Math.min(xs.length,ys.length,cs.length);
  for(let i=0;i<n;i++){
    const c=mk(p.plot,'circle');
    
    
    c.setAttribute('cx',p.sx(xs[i]).toFixed(1));c.setAttribute('cy',p.sy(ys[i]).toFixed(1));c.setAttribute('r','4.4');
    c.setAttribute('fill','none');c.setAttribute('stroke',classColors[cs[i]]);c.setAttribute('stroke-width','1.2');
  }
}
/* marching-squares fill of a binary map at the half level */
function cellsPath(p,rows,cols){
  const on=new Set();
  rows.forEach((j,k)=>cols[k].forEach(i=>on.add(i+','+j)));
  const s=mapPixelKpc[0];
  const X=i=>p.sx(i*s).toFixed(1),Y=j=>p.sy(j*s).toFixed(1);
  let d='';
  for(let j=-16;j<16;j++)for(let i=-16;i<18;i++){
    const c=[[i,j],[i+1,j],[i+1,j+1],[i,j+1]];
    const st=c.map(q=>on.has(q[0]+','+q[1]));
    const cnt=st.filter(Boolean).length;
    if(!cnt)continue;
    const saddle=cnt===2&&st[0]===st[2];
    const pts=[];
    const poly=a=>{if(a.length)d+='M'+a.map(q=>X(q[0])+' '+Y(q[1])).join('L')+'Z';};
    for(let k=0;k<4;k++){
      const a=c[k],b=c[(k+1)%4];
      if(st[k])pts.push(a);
      if(st[k]!==st[(k+1)%4])pts.push([(a[0]+b[0])/2,(a[1]+b[1])/2]);
    }
    if(saddle){
      for(let k=0;k<4;k++){
        if(!st[k])continue;
        const a=c[k],b=c[(k+1)%4],e=c[(k+3)%4];
        poly([a,[(a[0]+b[0])/2,(a[1]+b[1])/2],[(a[0]+e[0])/2,(a[1]+e[1])/2]]);
      }
    }else poly(pts);
  }
  return d;
}
function drawCells(p,rows,cols,color,name){
  const e=mk(p.plot,'path');
  
  
  e.setAttribute('d',cellsPath(p,rows,cols));
  e.setAttribute('fill',color);
}
function spline(p,arr,closed){
  const P=[];
  for(let i=0;i+1<arr.length;i+=2)P.push([p.sx(arr[i]),p.sy(arr[i+1])]);
  const n=P.length;
  const at=i=>closed?P[(i+n)%n]:P[Math.max(0,Math.min(n-1,i))];
  let d='M'+P[0][0].toFixed(1)+' '+P[0][1].toFixed(1);
  const m=closed?n:n-1;
  for(let i=0;i<m;i++){
    const a=at(i-1),b=at(i),c=at(i+1),e=at(i+2);
    const c1=[b[0]+(c[0]-a[0])/6,b[1]+(c[1]-a[1])/6],c2=[c[0]-(e[0]-b[0])/6,c[1]-(e[1]-b[1])/6];
    d+='C'+c1[0].toFixed(1)+' '+c1[1].toFixed(1)+' '+c2[0].toFixed(1)+' '+c2[1].toFixed(1)+' '+c[0].toFixed(1)+' '+c[1].toFixed(1);
  }
  return d+(closed?'Z':'');
}
function contour(p,arr,closed){
  const e=mk(p.plot,'path');
  
  
  e.setAttribute('d',spline(p,arr,closed));
  e.setAttribute('fill','none');e.setAttribute('stroke','#2c2c2c');e.setAttribute('stroke-width','1.05');
}
function peaks(p,cx,cy,rx,ry,tilt){
  const n=Math.min(cx.length,cy.length,rx.length,ry.length,tilt.length);
  for(let i=0;i<n;i++){
    const e=mk(p.plot,'ellipse');
    
    
    const X=p.sx(cx[i]).toFixed(1),Y=p.sy(cy[i]).toFixed(1);
    e.setAttribute('cx',X);e.setAttribute('cy',Y);
    e.setAttribute('rx',(rx[i]*p.kx).toFixed(1));e.setAttribute('ry',(ry[i]*p.ky).toFixed(1));
    e.setAttribute('transform','rotate('+tilt[i]+' '+X+' '+Y+')');
    e.setAttribute('fill','none');e.setAttribute('stroke','#2c2c2c');e.setAttribute('stroke-width',tilt[i]?'.85':'1.05');
  }
}

/* ---------- build ---------- */
const p1=panel('p1',61.2,585.8,.8,556.4,-2,2,-3,0);
const p2=panel('p2',662.4,1187,.8,556.4,-2,2,-3,0);
fitLines(p1);fitLines(p2);
crosses(p1,crossLeftX,crossLeftY);
crosses(p2,crossRightX,crossRightY);
axes(p1,sfrTicks,.1,radioTicks,.1,11,6,'t15',fmt,fmt,578,56.5,[11.5,6,1.5]);
axes(p2,sfrTicks,.1,radioTicks,.1,11,6,'t15',fmt,fmt,578,657.7,[11.5,6,1.5]);

const p3=panel('p3',88,577.8,649,1179.6,-2.5,-.5,.2,1.2);
const p4=panel('p4',689.2,1179,649,1179.6,-2.5,-.5,.2,1.2);
circles(p3,circleLeftX,circleLeftY,circleLeftClass);
circles(p4,circleRightX,circleRightY,circleRightClass);
axes(p3,ratioTicks,.1,siTicks,.05,10,5,'t19',fmt1,fmt1,1207,81,[13,7.5,1]);
axes(p4,ratioTicks,.1,siTicks,.05,10,5,'t19',fmt1,fmt1,1207,682,[13,7.5,1]);

const p5=panel('p5',61.2,585.8,1312.2,1836.6,-20,20,-20,20);
const p6=panel('p6',662.4,1187,1312.2,1836.6,-20,20,-20,20);
drawCells(p5,highRowsLeft,highColsLeft,'#ff6a00','excess-map-cells');
drawCells(p5,lowRowsLeft,lowColsLeft,'#000078','deficit-map-cells');
drawCells(p6,highRowsRight,highColsRight,'#ff6a00','excess-map-cells');
drawCells(p6,lowRowsRight,lowColsRight,'#000078','deficit-map-cells');
drawCells(p6,peakRowsRight,peakColsRight,'#b0b0b0','peak-map-cell');
[contourLeftOuter,contourLeftIsland,contourLeftThird,contourLeftFourth,contourLeftFifth,contourLeftLobe,contourLeftBlob,contourLeftHole].forEach(a=>contour(p5,a,true));
contour(p5,contourLeftSecond,false);
peaks(p5,peakLeftCx,peakLeftCy,peakLeftRx,peakLeftRy,peakLeftTilt);
[contourRightOuter,contourRightSecond,contourRightThird,contourRightInner,contourRightLobe,contourRightArm,contourRightKnot].forEach(a=>contour(p6,a,true));
peaks(p6,peakRightCx,peakRightCy,peakRightRx,peakRightRy,peakRightTilt);
axes(p5,raTicks,1,decTicks,1,10,5,'t15',fmt,fmt,1858,56,[12,6,1]);
axes(p6,raTicks,1,decTicks,1,10,5,'t15',fmt,fmt,1858,657,[12,6,1]);
</script>
</body>
</html>
